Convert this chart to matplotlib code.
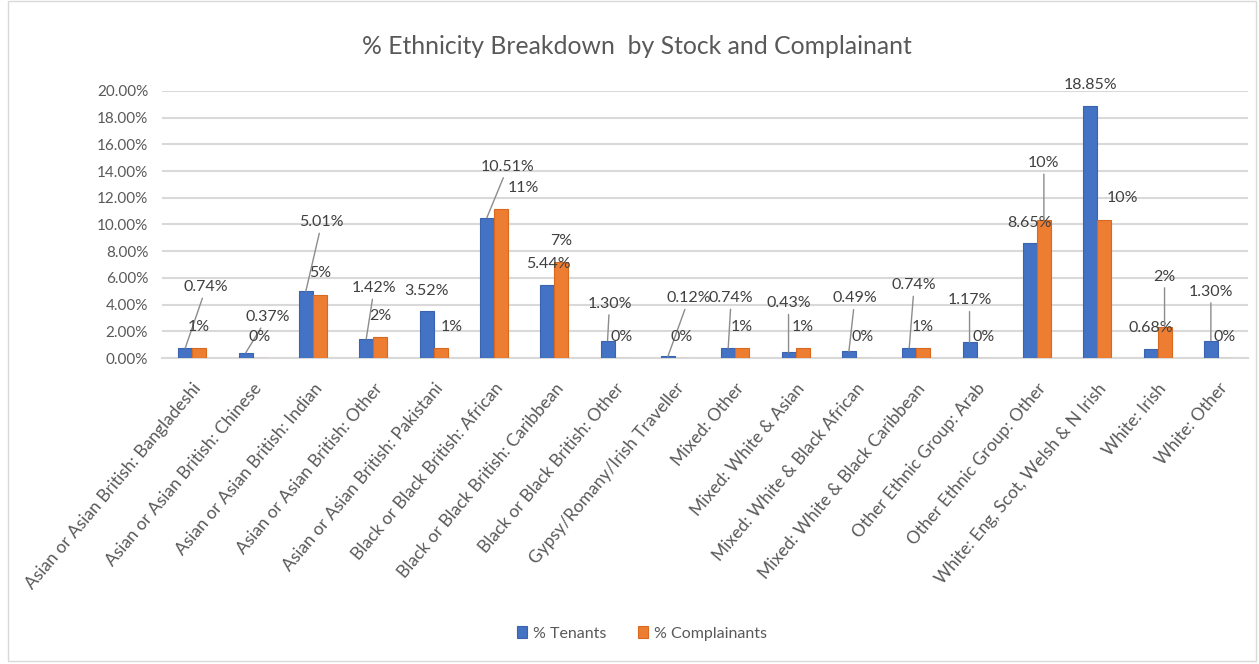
import numpy as np
import matplotlib
matplotlib.use("Agg")
import matplotlib.pyplot as plt
from matplotlib.patches import Rectangle
from matplotlib.ticker import PercentFormatter

# Data (percent)
categories = [
    "Asian or Asian British: Bangladeshi",
    "Asian or Asian British: Chinese",
    "Asian or Asian British: Indian",
    "Asian or Asian British: Other",
    "Asian or Asian British: Pakistani",
    "Black or Black British: African",
    "Black or Black British: Caribbean",
    "Black or Black British: Other",
    "Gypsy/Romany/Irish Traveller",
    "Mixed: Other",
    "Mixed: White & Asian",
    "Mixed: White & Black African",
    "Mixed: White & Black Caribbean",
    "Other Ethnic Group: Arab",
    "Other Ethnic Group: Other",
    "White: Eng, Scot, Welsh & N Irish",
    "White: Irish",
    "White: Other",
]
tenants = [0.74, 0.37, 5.01, 1.42, 3.52, 10.51, 5.44, 1.30, 0.12,
           0.74, 0.43, 0.49, 0.74, 1.17, 8.65, 18.85, 0.68, 1.30]
complainants = [0.74, 0.0, 4.72, 1.55, 0.74, 11.14, 7.21, 0.0, 0.0,
                0.74, 0.74, 0.0, 0.74, 0.0, 10.34, 10.34, 2.35, 0.0]

# label placement (offset pixels from bar top) and leader-line flags
ten_off = [(21, 61), (22, 36), (16, 69), (8, 51), (0, 20), (21, 51), (1, 21), (2, 37), (21, 58),
           (3, 50), (0, 49), (6, 53), (5, 63), (0, 42), (0, 20), (0, 21), (0, 21), (0, 49)]
ten_line = [1, 1, 1, 1, 0, 1, 0, 1, 1, 1, 1, 1, 1, 1, 0, 0, 0, 1]
com_off = [(0, 21), (0, 21), (0, 22), (0, 21), (11, 21), (23, 21), (0, 21), (0, 21), (0, 21),
           (0, 21), (0, 21), (0, 21), (0, 21), (0, 21), (0, 57), (18, 22), (0, 50), (0, 21)]
com_line = [0, 0, 0, 0, 0, 0, 0, 0, 0, 0, 0, 0, 0, 0, 1, 0, 1, 0]

plt.rcParams['font.family'] = ['Lato', 'DejaVu Sans']

fig = plt.figure(figsize=(12.59, 6.64), dpi=100)
ax = fig.add_axes([0.1287, 0.4608, 0.8626, 0.4022])

x = np.arange(len(categories))
w = 0.232
b1 = ax.bar(x - w / 2, tenants, w, color="#4472C4", edgecolor="#3A64B0", linewidth=0.8,
            label="% Tenants", zorder=3)
b2 = ax.bar(x + w / 2, complainants, w, color="#ED7D31", edgecolor="#D9691F", linewidth=0.8,
            label="% Complainants", zorder=3)


def add_labels(xs, vals, offs, lines, fmt):
    for xi, v, (dx, dy), ln in zip(xs, vals, offs, lines):
        props = dict(arrowstyle="-", color="#8C8C8C", lw=1.0, shrinkA=1, shrinkB=0) if ln else None
        ax.annotate(fmt(v), xy=(xi, v), xytext=(dx, dy), textcoords="offset pixels",
                    ha="center", va="center", fontsize=11.5, color="#404040",
                    arrowprops=props, zorder=4)


add_labels(x - w / 2, tenants, ten_off, ten_line, lambda v: f"{v:.2f}%")
add_labels(x + w / 2, complainants, com_off, com_line, lambda v: f"{v:.0f}%")

ax.set_xlim(-0.5, len(categories) - 0.5)
ax.set_ylim(0, 20)
ax.set_yticks(np.arange(0, 21, 2))
ax.yaxis.set_major_formatter(PercentFormatter(decimals=2))
ax.grid(axis="y", color="#D9D9D9", linewidth=1.5, zorder=0)
for s in ["top", "right", "left"]:
    ax.spines[s].set_visible(False)
ax.spines["bottom"].set_color("#D9D9D9")
ax.spines["bottom"].set_linewidth(1.5)
ax.tick_params(axis="both", length=0, labelsize=11, labelcolor="#595959")
ax.tick_params(axis="y", pad=10)
ax.set_xticks(x)
ax.set_xticklabels(categories, rotation=50, ha="right", rotation_mode="anchor", fontsize=12.5)
ax.tick_params(axis="x", pad=16)

fig.suptitle("% Ethnicity Breakdown  by Stock and Complainant", x=0.506, y=0.948,
             fontsize=17.8, color="#595959")
fig.legend(handles=[b1, b2], loc="center", bbox_to_anchor=(0.51, 0.046), ncol=2,
           frameon=False, fontsize=11.5, labelcolor="#595959", handlelength=0.6,
           handleheight=0.8, columnspacing=2.0, handletextpad=0.4)

fig.patches.append(Rectangle((0.006, 0.004), 0.992, 0.994, transform=fig.transFigure,
                             fill=False, edgecolor="#D9D9D9", linewidth=1.0))

fig.savefig("out.png", dpi=100)
